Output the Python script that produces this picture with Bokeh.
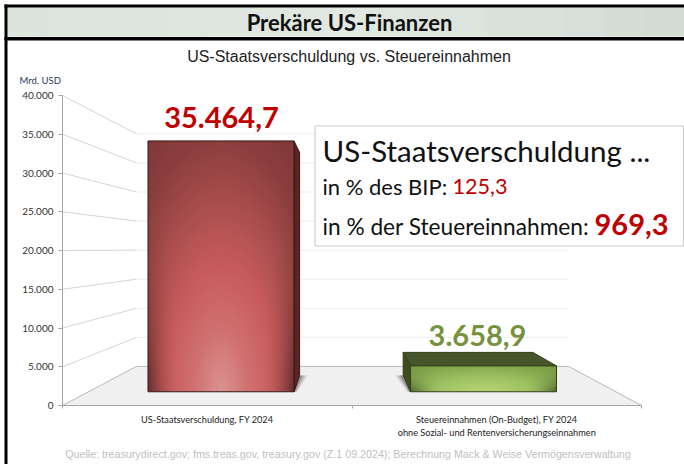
import numpy as np
from bokeh.plotting import figure
from bokeh.models import Range1d, FixedTicker, BoxAnnotation, Label
from bokeh.core.properties import value
from bokeh.embed import file_html
from bokeh.resources import INLINE

# ---- data ----
categories = ["US-Staatsverschuldung, FY 2024",
              "Steuereinnahmen (On-Budget), FY 2024\nohne Sozial- und Rentenversicherungseinnahmen"]
values = [35464.7, 3658.9]
value_labels = ["35.464,7", "3.658,9"]
tick_values = [0, 5000, 10000, 15000, 20000, 25000, 30000, 35000, 40000]
tick_labels = ["0", "5.000", "10.000", "15.000", "20.000", "25.000", "30.000", "35.000", "40.000"]
title_text = "Prekäre US-Finanzen"
subtitle_text = "US-Staatsverschuldung vs. Steuereinnahmen"
unit_text = "Mrd. USD"
source_text = "Quelle: treasurydirect.gov; fms.treas.gov, treasury.gov (Z.1 09.2024); Berechnung Mack & Weise Vermögensverwaltung"
box_head = "US-Staatsverschuldung ..."
box_line1 = "in % des BIP: "
box_val1 = "125,3"
box_line2 = "in % der Steuereinnahmen: "
box_val2 = "969,3"

# ---- geometry of the pseudo-3D projection (data units) ----
W, H = 684, 464
L, R, T, B = 62, 641, 95, 405
PX = (R - L) / 2.0
X = lambda px: (px - L) / PX
Ypx = lambda py: (B - py) / (B - T) * 40000
FRONT_BASE, FRONT_SCALE = 1773.0, 0.9125
BACK_WALL_BASE, BACK_WALL_SCALE = 5048.0, 0.75
VX, VY, K = X(344), 20780.0, 0.889
WALL_X0, WALL_X1 = X(136), X(568)
bar_cx = [X(220.5), X(483)]
bar_hw = (146.0 / 2) / PX
def back(x, y):
    return VX + (x - VX) * K, VY + (y - VY) * K

p = figure(width=W, height=H, output_backend="svg", toolbar_location=None,
           x_range=Range1d(X(0), X(W)), y_range=Range1d(Ypx(H), Ypx(0)),
           min_border=0, outline_line_color=None, background_fill_color="white",
           border_fill_color="white", margin=(0, 0, 0, 0))
p.grid.visible = False

# axes
ya = p.yaxis[0]
ya.fixed_location = 0
ya.bounds = (0, 40000)
ya.ticker = FixedTicker(ticks=tick_values)
ya.major_label_overrides = {v: s for v, s in zip(tick_values, tick_labels)}
ya.minor_tick_line_color = None
ya.axis_line_color = "#a6a6a6"
ya.major_tick_line_color = "#a6a6a6"
ya.major_tick_out = 4
ya.major_tick_in = 0
ya.major_label_text_font = "Lato"
ya.major_label_text_font_size = "10px"
ya.major_label_text_color = "#333333"
ya.major_label_standoff = 5

xa = p.xaxis[0]
xa.fixed_location = 0
xa.bounds = (0, 2)
xa.ticker = FixedTicker(ticks=[0.5, 1.5], minor_ticks=[0, 1, 2])
xa.major_label_overrides = {0.5: categories[0], 1.5: categories[1]}
xa.major_tick_line_color = None
xa.major_tick_out = 0
xa.major_tick_in = 0
xa.minor_tick_line_color = "#a6a6a6"
xa.minor_tick_out = 3
xa.minor_tick_in = 0
xa.axis_line_color = "#a6a6a6"
xa.major_label_text_font = "Lato"
xa.major_label_text_font_size = "9.2px"
xa.major_label_text_color = "#222222"
xa.major_label_standoff = 5

# floor
p.patch([0, 2, WALL_X1, WALL_X0], [0, 0, BACK_WALL_BASE, BACK_WALL_BASE],
        fill_color="#f0f0f0", line_color="#b8b8b8", line_width=1)

# walls / grid
for v in tick_values[1:]:
    by = BACK_WALL_BASE + BACK_WALL_SCALE * v
    p.line([0, WALL_X0], [v, by], line_color="#d4d4d4", line_width=1)
    p.line([WALL_X0, WALL_X1], [by, by], line_color="#d9d9d9", line_width=1, line_dash="1 1")

def stops(t, cols):
    t = np.clip(t, 0, 1)
    xs = np.linspace(0, 1, len(cols))
    c = np.array(cols, float)
    return np.stack([np.interp(t, xs, c[:, i]) for i in range(3)], axis=-1)

def gradient(nx, ny, cols, wscale):
    yy, xx = np.mgrid[0:ny, 0:nx]
    u = (xx + .5) / nx - .5
    w = (yy + .5) / ny
    d = np.sqrt((u / .75) ** 2 + (w * wscale) ** 2) / 1.25
    rgb = stops(d, cols)
    edge = np.clip((np.abs(u) - .28) / .22, 0, 1)[..., None] ** 2
    rgb = rgb * (1 - .45 * edge * (1 - w[..., None]) ** 2)
    img = np.zeros((ny, nx), dtype=np.uint32)
    view = img.view(dtype=np.uint8).reshape((ny, nx, 4))
    view[..., :3] = rgb.astype(np.uint8)
    view[..., 3] = 255
    return img

red = [(220, 146, 146), (208, 112, 112), (200, 92, 92), (170, 78, 78), (140, 62, 62), (125, 55, 55)]
green = [(184, 212, 116), (160, 195, 100), (130, 165, 75), (105, 135, 58)]
faces = [dict(side="#5a2423", top="#5a2423", edge="#3a1716", grad=red, wscale=1.0),
         dict(side="#3f4d1e", top="#46562a", edge="#333f18", grad=green, wscale=.8)]

for i, v in enumerate(values):
    cx = bar_cx[i]
    x0, x1 = cx - bar_hw, cx + bar_hw
    y0, y1 = FRONT_BASE, FRONT_BASE + FRONT_SCALE * v
    (bx0, by0), (bx1, by1) = back(x0, y0), back(x1, y1)
    f = faces[i]
    sign = 1 if cx < VX else -1
    near = x1 if sign > 0 else x0
    farx = bx1 if sign > 0 else bx0
    # soft ground shadow
    for s, a in zip([8, 5.5, 3], [.12, .2, .3]):
        d = s / PX
        p.patch([near, farx, farx + sign * d, near + sign * d * .4], [y0, by0, by0, y0],
                fill_color="#303030", fill_alpha=a, line_color=None)
    # top face, when seen from above
    if y1 < VY:
        p.patch([x0, x1, bx1, bx0], [y1, y1, by1, by1], fill_color=f["top"],
                line_color=f["edge"], line_width=1)
    # side face
    p.patch([near, farx, farx, near], [y0, by0, by1, y1], fill_color=f["side"],
            line_color=f["edge"], line_width=1)
    # front face with a radial gradient
    nx = int(round((x1 - x0) * PX))
    ny = int(round((y1 - y0) / 40000 * (B - T)))
    p.image_rgba(image=[gradient(nx, ny, f["grad"], f["wscale"])], x=x0, y=y0, dw=x1 - x0, dh=y1 - y0)
    p.line([x0, x1, x1, x0, x0], [y0, y0, y1, y1, y0], line_color=f["edge"], line_width=1)

# value labels
p.text(x=[X(221)], y=[Ypx(117)], text=[value_labels[0]], text_font=value("Lato"),
       text_font_style="bold", text_font_size="29px", text_color="#c00000",
       text_align="center", text_baseline="middle")
p.text(x=[X(477)], y=[Ypx(335)], text=[value_labels[1]], text_font=value("Lato"),
       text_font_style="bold", text_font_size="29px", text_color="#76923c",
       text_align="center", text_baseline="middle")

# canvas furniture in screen units
def sy(py):
    return H - py

def box(x0, x1, y0, y1, fill, line=None, lw=1):
    b = BoxAnnotation(left=x0, right=x1, top=sy(y0), bottom=sy(y1),
                      left_units="screen", right_units="screen", top_units="screen", bottom_units="screen",
                      fill_color=fill, fill_alpha=1, line_color=line, line_alpha=1, line_width=lw, level="overlay")
    p.add_layout(b)

def label(x, y, text, font, size, color, style="normal", align="left"):
    p.add_layout(Label(x=x, y=sy(y), x_units="screen", y_units="screen", text=text, text_font=font,
                       text_font_size=size, text_color=color, text_font_style=style,
                       text_align=align, text_baseline="middle", level="overlay"))

# header band
n = 17
c_l, c_m, c_r = np.array([218, 227, 220.]), np.array([226, 233, 227.]), np.array([210, 220, 213.])
for i in range(n):
    t = (i + .5) / n
    c = c_l + (c_m - c_l) * t * 2 if t < .5 else c_m + (c_r - c_m) * (t - .5) * 2
    box(7 + i * (W - 7) / n, 7 + (i + 1) * (W - 7) / n + 1, 7, 36, "#%02x%02x%02x" % tuple(int(q) for q in c))
box(4, W, 4, 7, "#000000")
box(4, W, 36.5, 40, "#000000")
box(4, 7, 4, H, "#000000")

label(349, 22, title_text, "Lato", "22px", "#111111", "bold", "center")
label(348.5, 56, subtitle_text, "Liberation Sans", "16px", "#222222", "normal", "center")
label(19, 79.5, unit_text, "Lato", "9.5px", "#1f3864")
label(347.5, 453, source_text, "Liberation Sans", "10.7px", "#c0c0c0", "normal", "center")

# text box
box(314.5, 683, 125.5, 245.5, "#ffffff", "#c8c8c8", 1)
label(322, 150, box_head, "Lato", "29.5px", "#111111")
label(322, 186, box_line1, "Lato", "22px", "#111111")
label(452, 186, box_val1, "Lato", "21.6px", "#c00000")
label(322, 226, box_line2, "Lato", "22.7px", "#111111")
label(594, 224, box_val2, "Lato", "29px", "#c00000", "bold")

open("out.html", "w").write(file_html(p, INLINE))
